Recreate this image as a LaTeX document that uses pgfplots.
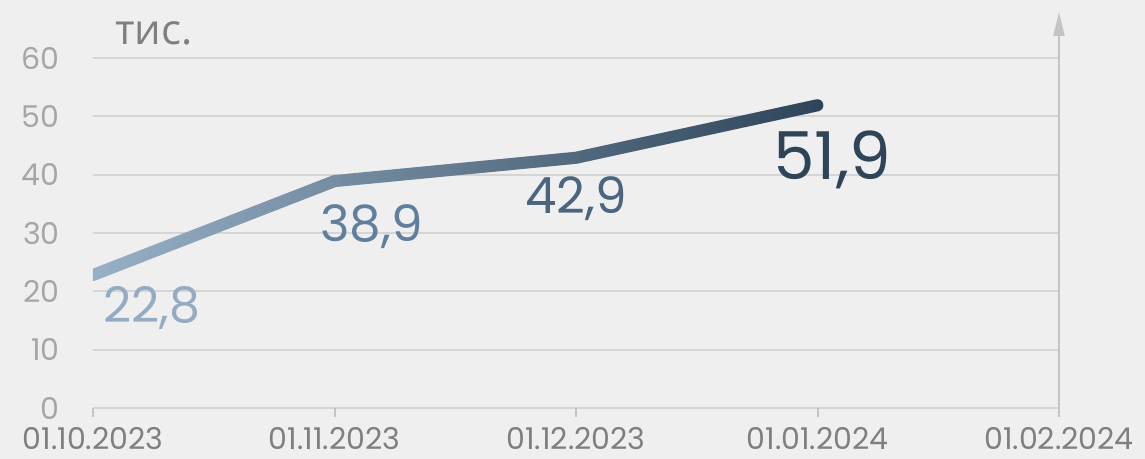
\documentclass[border=0pt]{standalone}
\usepackage{fontspec}
\setmainfont{Poppins}
\newfontfamily\cyr{Open Sans}
\usepackage{pgfplots}
\pgfplotsset{compat=1.18}
\usetikzlibrary{fadings,arrows.meta}
\definecolor{bg}{HTML}{EFEFEF}
\definecolor{gridc}{HTML}{D5D5D5}
\definecolor{axc}{HTML}{C4C4C4}
\definecolor{ylab}{HTML}{A6A6A6}
\definecolor{xlab}{HTML}{7F7F7F}
\definecolor{lineA}{HTML}{9AB2C8}
\definecolor{lineB}{HTML}{2E4458}
\definecolor{labA}{HTML}{93ABC3}
\definecolor{labB}{HTML}{607F9C}
\definecolor{labC}{HTML}{4A6580}
\definecolor{labD}{HTML}{2E4458}
\tikzfading[name=fadeLR, left color=transparent!100, right color=transparent!0]
\begin{document}
\begin{tikzpicture}
\fill[bg] (-46.5pt,-25.5pt) rectangle (526pt,204pt);
\begin{axis}[
  at={(0pt,0pt)}, anchor=south west,
  scale only axis, width=483pt, height=198pt,
  xmin=0, xmax=4, ymin=0, ymax=67.9,
  axis line style={draw=none},
  ytick={0,10,20,30,40,50,60},
  xtick={0,1,2,3,4},
  xticklabels={01.10.2023,01.11.2023,01.12.2023,01.01.2024,01.02.2024},
  ymajorgrids,
  grid style={gridc, line width=1pt},
  xtick pos=lower, ytick pos=left,
  tick align=outside,
  major tick length=4.5pt,
  ytick style={draw=none},
  xtick style={draw=axc, line width=1pt},
  yticklabel style={font=\fontsize{15}{15}\selectfont, text=ylab, anchor=east, inner sep=0pt, xshift=-12pt},
  xticklabel style={font=\fontsize{15}{15}\selectfont, text=xlab, anchor=north, inner sep=0pt, yshift=-5pt},
  /pgf/number format/assume math mode=true,
  clip mode=individual,
]
\draw[axc, line width=1.2pt, -{Triangle[width=5.5pt,length=12pt]}] (axis cs:4,0) -- (axis cs:4,67.9);
\addplot[draw=lineA, line width=6pt, line cap=round, line join=round] coordinates {(0,22.8) (1,38.9) (2,42.9) (3,51.9)};
\addplot[draw=lineB, line width=6pt, line cap=round, line join=round, path fading=fadeLR] coordinates {(0,22.8) (1,38.9) (2,42.9) (3,51.9)};
\node[anchor=base west, inner sep=0pt, text=xlab, font=\cyr\fontsize{21}{21}\selectfont] at (axis cs:0.091,62.4) {тис.};
\node[anchor=base west, inner sep=0pt, text=labA, font=\fontsize{24.5}{24.5}\selectfont] at (axis cs:0.041,14.6) {22,8};
\node[anchor=base west, inner sep=0pt, text=labB, font=\fontsize{25}{25}\selectfont] at (axis cs:0.940,28.5) {38,9};
\node[anchor=base west, inner sep=0pt, text=labC, font=\fontsize{25}{25}\selectfont] at (axis cs:1.789,33.3) {42,9};
\node[anchor=base west, inner sep=0pt, text=labD, font=\fontsize{33}{33}\selectfont] at (axis cs:2.816,39.1) {51,9};
\end{axis}
\pgfresetboundingbox
\path (-46.5pt,-25.5pt) rectangle (526pt,204pt);
\end{tikzpicture}
\end{document}
